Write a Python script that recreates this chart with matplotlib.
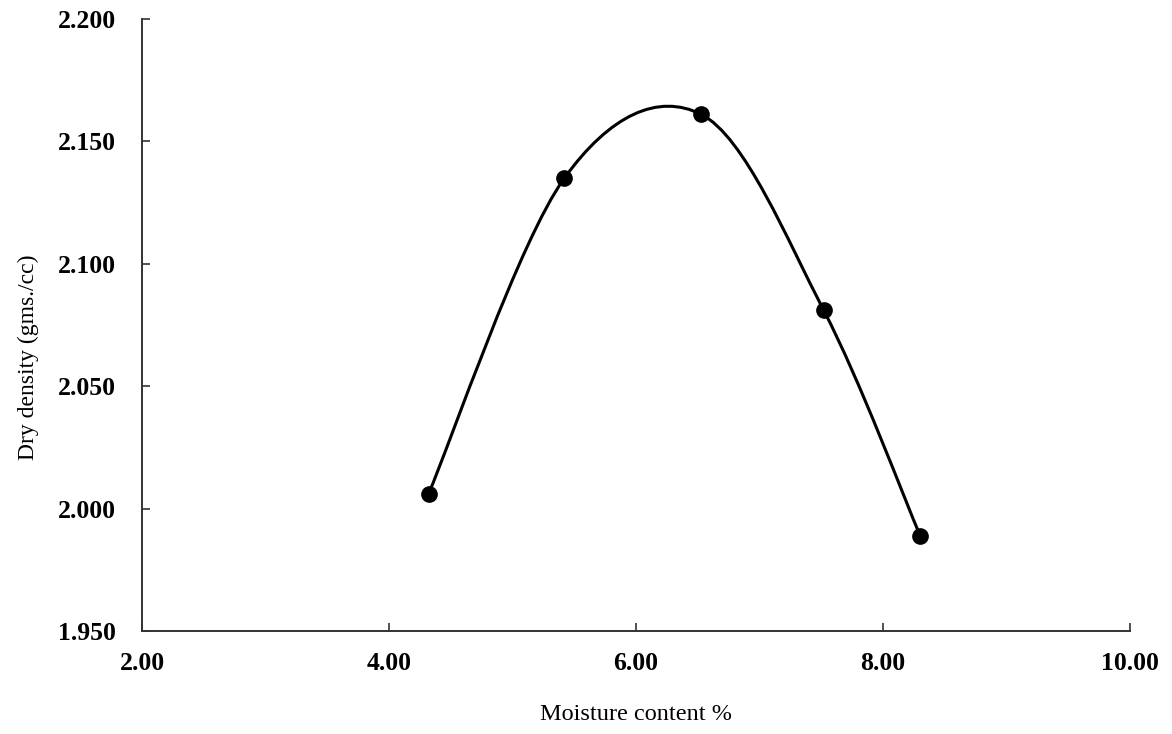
import numpy as np
import matplotlib
matplotlib.use("Agg")
import matplotlib.pyplot as plt
from matplotlib.path import Path
from matplotlib.patches import PathPatch

moisture = [4.32, 5.42, 6.53, 7.52, 8.30]
density = [2.006, 2.135, 2.161, 2.081, 1.989]
x_ticks = [2.0, 4.0, 6.0, 8.0, 10.0]
y_ticks = [1.950, 2.000, 2.050, 2.100, 2.150, 2.200]

plt.rcParams['font.family'] = ['Liberation Serif', 'DejaVu Serif']

fig = plt.figure(figsize=(11.72, 7.34), dpi=100)
ax = fig.add_axes([142/1172, 1 - 631/734, (1130-142)/1172, (631-19)/734])

# Excel-style smoothed line (Catmull-Rom Bezier)
pts = np.column_stack([moisture, density])
n = len(pts)
verts = [tuple(pts[0])]
codes = [Path.MOVETO]
for i in range(n - 1):
    p0 = pts[i - 1] if i > 0 else pts[i]
    p1 = pts[i]
    p2 = pts[i + 1]
    p3 = pts[i + 2] if i + 2 < n else pts[i + 1]
    c1 = p1 + (p2 - p0) / 6.0
    c2 = p2 - (p3 - p1) / 6.0
    verts += [tuple(c1), tuple(c2), tuple(p2)]
    codes += [Path.CURVE4] * 3
ax.add_patch(PathPatch(Path(verts, codes), facecolor='none', edgecolor='black',
                       lw=2.2, zorder=2))
ax.plot(moisture, density, linestyle='none', marker='o', markersize=11,
        color='black', zorder=3)

ax.set_xlim(2, 10)
ax.set_ylim(1.95, 2.2)
ax.set_xticks(x_ticks)
ax.set_yticks(y_ticks)
ax.set_xticklabels([f"{v:.2f}" for v in x_ticks], fontsize=18.5, fontweight='bold')
ax.set_yticklabels([f"{v:.3f}" for v in y_ticks], fontsize=18.5, fontweight='bold')
ax.tick_params(direction='in', length=6, width=1.2, color='#333333')
ax.tick_params(axis='x', pad=15)
ax.tick_params(axis='y', pad=18.5)
for s in ['top', 'right']:
    ax.spines[s].set_visible(False)
for s in ['left', 'bottom']:
    ax.spines[s].set_linewidth(1.4)
    ax.spines[s].set_color('#333333')

ax.set_xlabel('Moisture content %', fontsize=17.5)
ax.set_ylabel('Dry density (gms./cc)', fontsize=17)
ax.xaxis.set_label_coords(0.5, (631 - 715) / 612, transform=ax.transAxes)
ax.xaxis.label.set_va('center')
ax.yaxis.set_label_coords((28 - 142) / 988, (631 - 357) / 612, transform=ax.transAxes)
ax.yaxis.label.set_va('center')

fig.savefig('out.png', dpi=100)
